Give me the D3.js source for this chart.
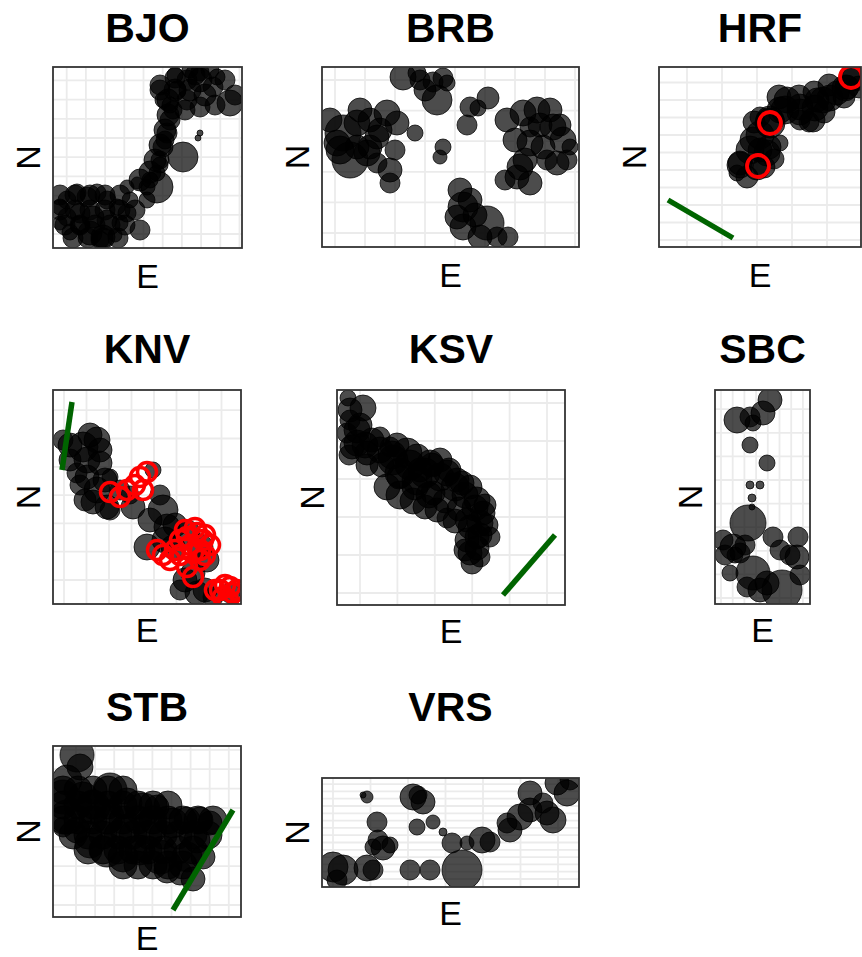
<!DOCTYPE html>
<html>
<head>
<meta charset="utf-8">
<script src="https://cdn.jsdelivr.net/npm/d3@7"></script>
<style>
  body { margin: 0; background: #fff; }
  svg { display: block; }
  text { font-family: "Liberation Sans", Arial, sans-serif; fill: #000; }
</style>
</head>
<body>
<svg id="chart" width="862" height="957"></svg>
<script>
// ---------------- DATA (local easting / northing units) ----------------
const siteNames = ["BJO", "BRB", "HRF", "KNV", "KSV", "SBC", "STB", "VRS"];
// extent of each site's window: [E span, N span]
const siteExtents = [[189, 181], [257, 180], [202, 180], [188, 214], [228, 215], [95, 214], [188, 171], [257, 109]];
// grid breaks: first break and spacing along E and N
const eGridStart = [13.7, 13, 28, 11, 23, 6, 23, 11];
const eGridStep  = [19.2, 30, 35, 22.5, 37.4, 11.7, 19.1, 37.5];
const nGridStart = [14, 14, 7, 24, 12, 6, 12, 8];
const nGridStep  = [19.2, 30.6, 17.5, 28.3, 38, 23.6, 19.4, 7.3];

// points: [E, N, size]
const bjoPoints = [
  [7,41,8],[14,48,9],[24,55,9],[34,51,10],[44,55,9],[54,48,9],[64,41,8],[74,35,9],
  [14,31,9],[27,35,10],[40,31,11],[54,28,10],[37,15,12],[50,11,12],[7,25,7],[87,18,10],
  [67,25,8],[47,8,9],[17,16,8],[27,23,9],[62,13,7],[77,48,8],[94,48,8],
  [7,53,10],[22,53,10],[37,53,10],[52,53,10],[67,53,10],
  [7,38,10],[22,38,10],[37,38,10],[52,38,10],[67,38,10],[82,38,10],
  [12,23,10],[27,23,10],[42,23,10],[57,23,10],[72,23,10],
  [20,10,10],[35,10,10],[50,10,10],[65,10,10],
  [74,61,7],[84,65,6],[94,61,8],[104,61,16],[104,75,8],[97,68,8],[107,83,8],[107,88,9],
  [87,68,11],[97,76,11],[102,88,11],[107,103,11],[112,118,11],[115,133,11],[115,148,11],[122,158,11],
  [130,91,15],[110,101,10],[112,108,9],[114,115,10],[117,128,10],[120,138,9],[117,143,8],
  [110,148,8],[107,158,10],[124,158,9],[134,148,10],[147,141,10],[134,168,10],[147,168,12],
  [160,161,10],[147,176,9],[164,171,8],[177,145,13],[122,173,8],[137,178,8],[157,178,9],
  [107,163,10],[122,170,10],[137,158,11],[152,153,11],[162,143,10],[132,138,10],[142,173,10],
  [172,168,10],[182,153,10],
  [147,115,3],[145,110,3]
];
const brbPoints = [
  [81,170,13],[95,174,9],[98,167,10],[111,165,10],[121,169,10],[125,164,8],[115,147,15],
  [103,157,11],
  [148,140,10],[166,149,11],[156,139,8],[145,122,10],
  [21,114,18],[35,124,13],[15,104,13],[28,87,18],[48,127,12],[65,134,13],[75,124,12],
  [55,110,12],[48,100,12],[55,84,10],[68,77,12],[68,64,10],[45,94,13],[93,114,8],[35,100,12],
  [18,97,14],[38,137,12],[8,127,12],[58,117,12],[73,97,10],
  [121,100,8],[118,90,7],
  [138,57,12],[141,40,15],[141,20,13],[165,24,17],[158,10,12],[175,10,10],[186,10,10],[135,30,12],
  [148,47,12],[153,32,12],
  [185,127,12],[201,134,13],[215,137,13],[228,137,12],[231,120,13],[241,107,13],[248,100,8],
  [208,104,13],[221,100,12],[198,80,13],[208,64,12],[195,70,12],[235,84,12],[245,87,10],
  [225,87,10],[208,120,10],
  [193,107,12],[218,122,12],[238,122,11],[203,87,12],[183,67,10]
];
const hrfPoints = [
  [81,84,12],[98,80,13],[108,94,13],[94,107,13],[111,124,15],[101,130,10],[121,137,13],
  [128,147,13],[141,140,13],[154,127,12],[158,147,12],[164,147,13],[178,154,12],[188,160,12],
  [194,170,13],[121,104,8],[78,74,8],[101,97,12],[141,127,10],
  [81,82,13],[91,97,14],[101,112,14],[111,127,14],[126,137,14],[141,135,13],[156,139,13],
  [171,149,13],[186,159,13],[196,169,13],
  [88,70,11],[110,100,12],[95,125,11],[120,150,12],[140,150,12],[155,155,11],[170,162,11],
  [150,125,10],[165,135,11],[185,150,11],[200,160,11],[105,80,11],[115,88,10]
];
const knvPoints = [
  [10,164,10],[30,157,15],[44,164,13],[34,144,13],[47,141,12],[34,127,12],[44,114,13],
  [40,102,12],[54,97,12],[24,131,10],[57,127,8],[80,97,12],[100,134,8],[110,94,15],
  [114,77,13],[94,57,13],[120,57,12],[134,71,13],[147,57,13],[154,44,12],[140,31,12],
  [144,11,12],[160,7,10],[177,11,10],[67,114,10],[77,109,9],
  [17,159,12],[17,144,11],[27,119,10],[47,154,12],[52,124,12],[32,104,11],[57,94,10],[37,169,12],
  [97,84,12],[107,109,10],[122,79,12],
  [112,64,13],[132,24,12],[152,14,12],[127,14,10]
];
const ksvPoints = [
  [11,207,8],[26,197,13],[13,185,10],[10,172,10],[20,162,13],[30,152,12],[43,168,10],
  [56,145,15],[70,152,15],[63,132,15],[80,125,15],[93,142,13],[103,145,12],[110,132,13],
  [120,125,12],[96,112,12],[133,118,12],[140,105,13],[146,92,12],[110,87,10],[133,78,12],
  [140,68,12],[133,52,12],[143,48,10],[153,68,10],[53,158,10],[23,180,12],[83,135,12],
  [13,195,12],[20,175,13],[28,160,13],[43,155,13],[55,150,14],[73,140,15],[88,132,15],
  [103,128,14],[118,118,14],[128,110,13],[138,97,13],[143,82,13],[143,70,12],[140,57,12],
  [60,160,12],[80,148,13],[95,140,12],[112,135,12],[125,122,12],[148,100,11],[150,80,11],
  [45,140,12],[62,128,12],[78,118,13],[92,110,13],[108,104,12],[122,96,12],[130,85,12],
  [130,65,12],[128,55,11],[12,150,10],[30,140,11],[135,42,11],
  [50,118,13],[63,110,14],[76,104,13],[88,98,12],[100,95,12],[118,84,12],[15,158,12],[35,165,12]
];
const sbcPoints = [
  [55,204,12],[22,184,13],[35,187,10],[38,181,8],[48,191,12],[35,159,8],[52,141,8],
  [35,119,4],[45,119,4],[37,106,4],[37,97,3],[33,81,18],[8,64,10],[18,57,13],[25,51,10],
  [58,67,10],[65,54,10],[83,67,10],[82,47,12],[15,31,8],[38,31,17],[32,17,10],[52,21,12],
  [67,14,20],[20,49,8],
  [30,59,10],[75,49,10],[45,14,12],[85,29,10],[10,49,10]
];
const stbPoints = [
  [24,162,17],[27,150,13],[14,137,15],[10,120,17],[14,100,17],[10,90,10],[30,120,15],
  [40,110,17],[57,127,17],[54,100,17],[37,74,15],[54,67,17],[70,60,15],[74,114,15],
  [90,107,17],[97,90,17],[87,67,15],[107,60,17],[114,47,13],[120,94,15],[134,97,13],
  [147,97,13],[157,94,12],[144,77,13],[134,60,15],[127,44,12],[150,60,12],[104,110,12],
  [24,87,13],[72,87,15],
  [10,127,14],[25,127,14],[40,127,14],[55,127,14],[70,127,14],
  [10,112,14],[25,112,14],[40,112,14],[55,112,14],[70,112,14],[85,112,14],[100,112,14],[115,112,14],
  [10,97,14],[25,97,14],[40,97,14],[55,97,14],[70,97,14],[85,97,14],[100,97,14],[115,97,14],
  [130,97,14],[145,97,14],[160,97,14],
  [20,82,14],[35,82,14],[50,82,14],[65,82,14],[80,82,14],[95,82,14],[110,82,14],[125,82,14],
  [140,82,14],[155,82,14],
  [35,67,14],[50,67,14],[65,67,14],[80,67,14],[95,67,14],[110,67,14],[125,67,14],[140,67,14],
  [70,52,14],[85,52,14],[100,52,14],[115,52,14],[130,52,14],[140,38,12]
];
const vrsPoints = [
  [45,90,6],[41,92,3],[91,90,13],[101,85,12],[96,92,9],[55,65,10],[95,60,8],[111,65,7],
  [121,55,4],[56,47,10],[61,39,12],[68,42,8],[51,40,8],[11,20,15],[21,17,15],[15,7,10],
  [45,19,13],[51,17,10],[88,17,10],[108,17,10],[140,17,20],[130,44,10],[145,44,7],
  [160,47,13],[168,45,10],[188,57,12],[198,70,13],[208,77,12],[225,74,12],[231,67,13],
  [208,94,12],[221,84,10],[235,104,12],[245,94,13],[248,107,10],[185,64,10]
];
const pointsBySite = [bjoPoints, brbPoints, hrfPoints, knvPoints, ksvPoints, sbcPoints, stbPoints, vrsPoints];

// flagged locations (open red rings): [E, N]
const hrfRings = [[111,124],[99,81],[192,170]];
const knvRings = [
  [57,112],[67,107],[74,114],[82,119],[87,127],[94,132],[90,114],
  [104,54],[110,49],[117,44],[127,64],[134,67],[144,71],[150,64],[140,51],[147,44],
  [134,37],[140,27],[122,54],
  [132,74],[142,76],[152,69],[157,59],[147,54],[137,59],[127,49],[152,49],
  [167,14],[177,17],[180,11],[170,7],[175,4],[172,19],[184,14],[162,14]
];
const ringsBySite = [[], [], hrfRings, knvRings, [], [], [], []];

// tracks (green): [[E, N], [E, N]]
const hrfTrack = [[9,47],[74,9]];
const knvTrack = [[19,202],[9,134]];
const ksvTrack = [[166,10],[218,70]];
const stbTrack = [[120,7],[180,107]];
const tracksBySite = [null, null, hrfTrack, knvTrack, ksvTrack, null, stbTrack, null];

// ---------------- LAYOUT ----------------
const panelOrigins = [[53,67],[322,67],[659,67],[53,390],[337,390],[715,390],[53,746],[322,778]];
const titleBaselines = [42, 42, 42, 363, 363, 363, 721, 721];
const eLabelOffsets = [40, 40, 40, 38, 38, 38, 33, 38];
const pxPerUnit = 1;

const svg = d3.select("#chart");
const defs = svg.append("defs");

siteNames.forEach((name, i) => {
  const [ox, oy] = panelOrigins[i];
  const [eSpan, nSpan] = siteExtents[i];
  const w = eSpan * pxPerUnit, h = nSpan * pxPerUnit;
  const x = d3.scaleLinear().domain([0, eSpan]).range([ox, ox + w]);
  const y = d3.scaleLinear().domain([0, nSpan]).range([oy + h, oy]);
  const r = d3.scaleLinear().domain([0, 20]).range([0, 20 * pxPerUnit]);

  const clipId = "clip-" + name;
  defs.append("clipPath").attr("id", clipId)
    .append("rect").attr("x", ox).attr("y", oy).attr("width", w).attr("height", h);

  const g = svg.append("g");
  g.append("rect").attr("x", ox).attr("y", oy).attr("width", w).attr("height", h).attr("fill", "#fff");

  const eBreaks = d3.range(eGridStart[i], eSpan, eGridStep[i]);
  const nBreaks = d3.range(nGridStart[i], nSpan, nGridStep[i]);
  const grid = g.append("g").attr("clip-path", `url(#${clipId})`);
  grid.selectAll("line.v").data(eBreaks).join("line")
    .attr("x1", d => x(d)).attr("x2", d => x(d)).attr("y1", oy).attr("y2", oy + h)
    .attr("stroke", "#ebebeb").attr("stroke-width", 1.8);
  grid.selectAll("line.h").data(nBreaks).join("line")
    .attr("y1", d => y(d)).attr("y2", d => y(d)).attr("x1", ox).attr("x2", ox + w)
    .attr("stroke", "#ebebeb").attr("stroke-width", 1.8);

  const marks = g.append("g").attr("clip-path", `url(#${clipId})`);
  marks.selectAll("circle.pt").data(pointsBySite[i]).join("circle")
    .attr("class", "pt")
    .attr("cx", d => x(d[0])).attr("cy", d => y(d[1])).attr("r", d => r(d[2]))
    .attr("fill", "#000").attr("fill-opacity", 0.7)
    .attr("stroke", "#000").attr("stroke-opacity", 0.75).attr("stroke-width", 1);

  marks.selectAll("circle.ring").data(ringsBySite[i]).join("circle")
    .attr("class", "ring")
    .attr("cx", d => x(d[0])).attr("cy", d => y(d[1])).attr("r", r(i === 2 ? 11 : 9.5))
    .attr("fill", "none").attr("stroke", "#ff0000").attr("stroke-width", i === 2 ? 3.8 : 3.5);

  if (tracksBySite[i]) {
    marks.append("path").datum(tracksBySite[i])
      .attr("d", d3.line().x(d => x(d[0])).y(d => y(d[1])))
      .attr("fill", "none").attr("stroke", "#006400").attr("stroke-width", 5.5);
  }

  g.append("rect").attr("x", ox).attr("y", oy).attr("width", w).attr("height", h)
    .attr("fill", "none").attr("stroke", "#333").attr("stroke-width", 1.8);

  g.append("text").attr("x", ox + w / 2).attr("y", titleBaselines[i])
    .attr("text-anchor", "middle").attr("font-size", 41).attr("font-weight", "bold")
    .text(name);
  g.append("text").attr("x", ox + w / 2).attr("y", oy + h + eLabelOffsets[i])
    .attr("text-anchor", "middle").attr("font-size", 34).text("E");
  g.append("text")
    .attr("transform", `translate(${ox - 13},${oy + h / 2}) rotate(-90)`)
    .attr("text-anchor", "middle").attr("font-size", 34).text("N");
});
</script>
</body>
</html>
